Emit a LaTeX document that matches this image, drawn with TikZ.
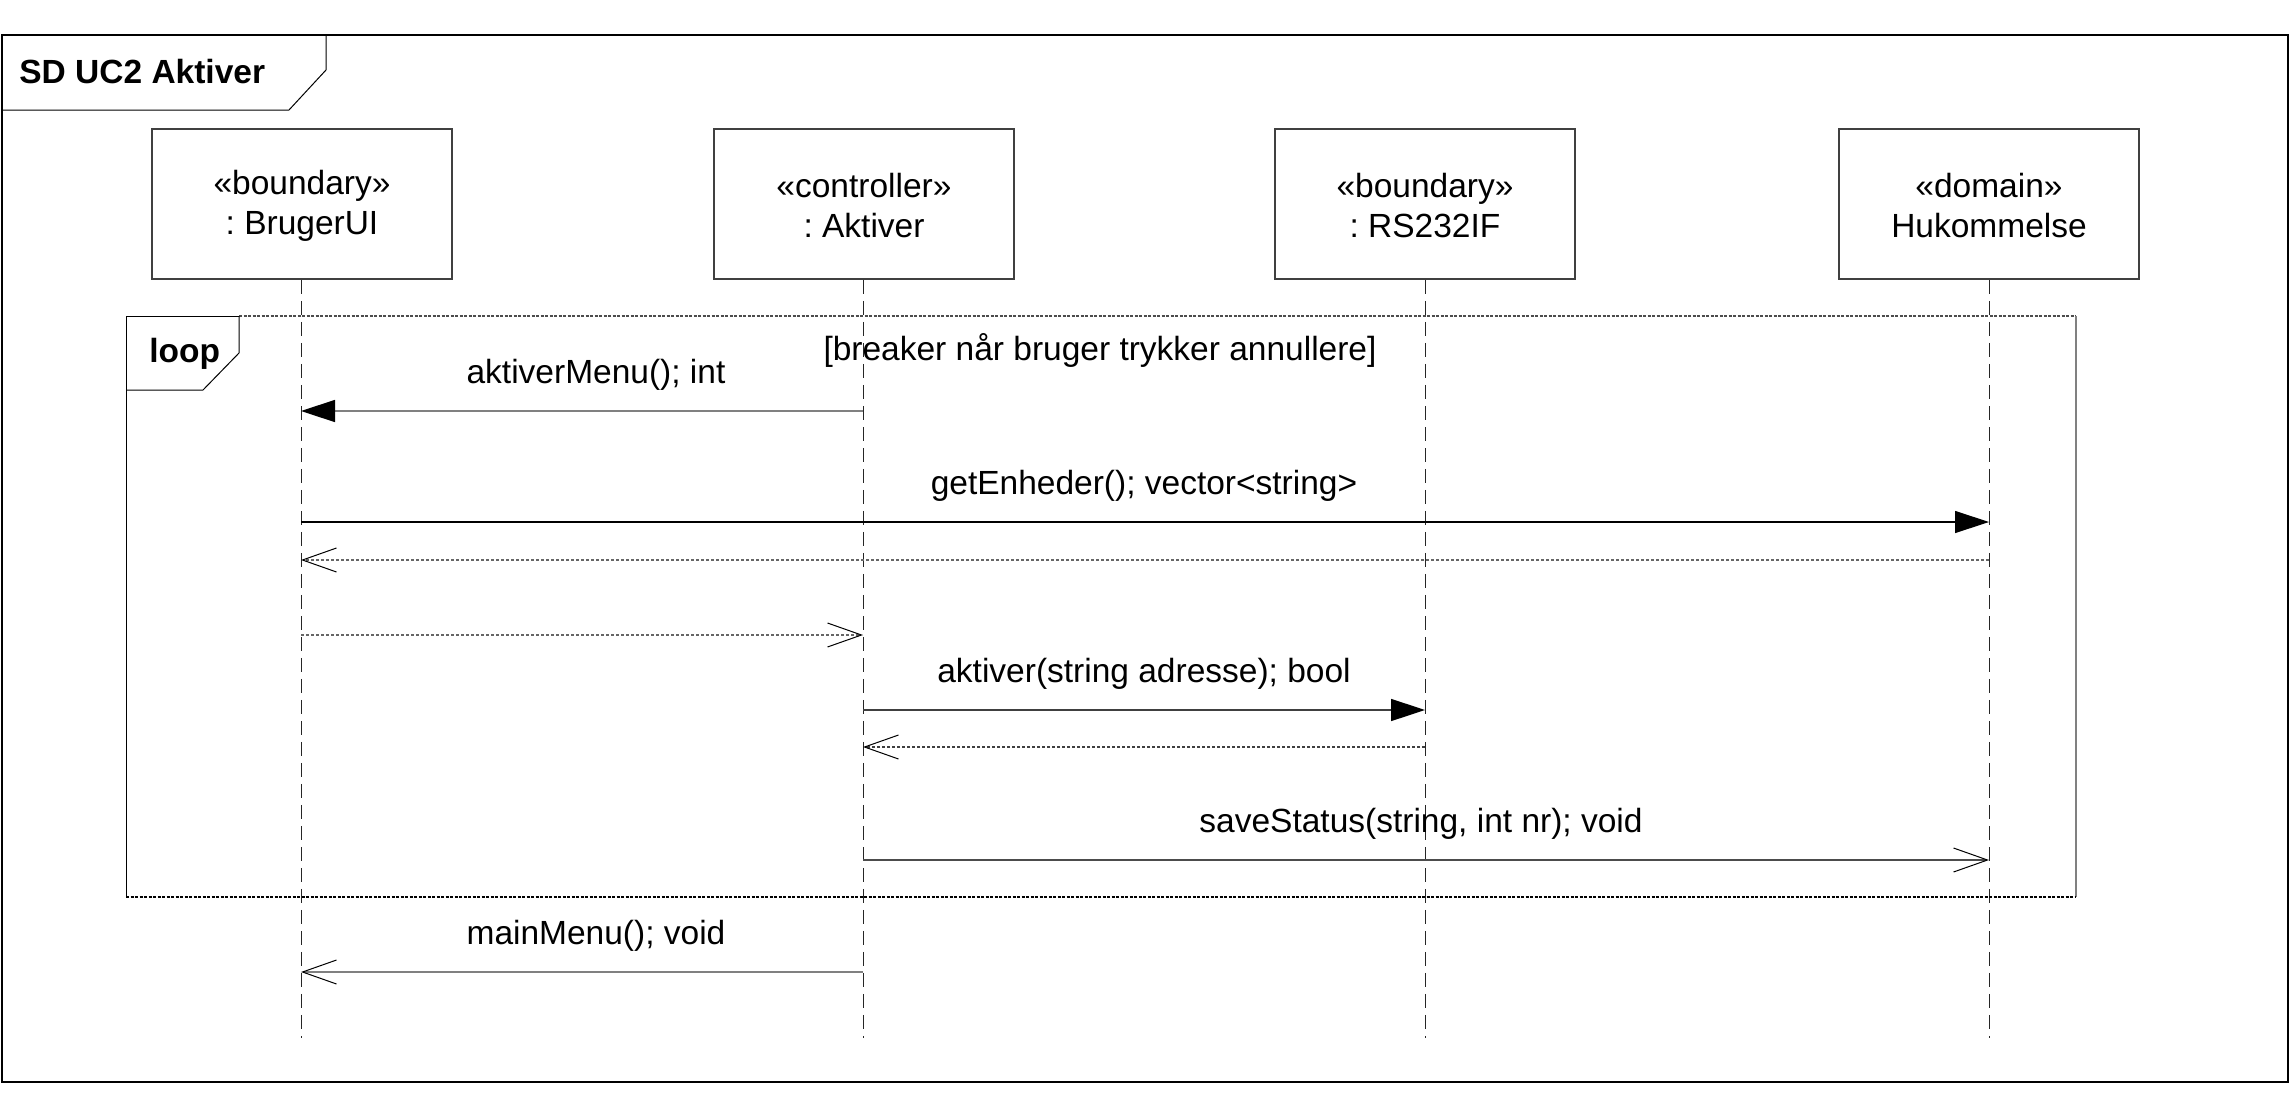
\documentclass[tikz,border=0pt]{standalone}
\usepackage{fontspec}
\setmainfont{Liberation Sans}
\usetikzlibrary{arrows.meta}
\frenchspacing
\begin{document}
\begin{tikzpicture}[x=0.5pt,y=-0.5pt,
  txt/.style={font=\fontsize{16.75}{20}\selectfont, inner sep=0pt},
  head/.style={draw=black!75, line width=0.75pt, fill=white, minimum width=150pt, minimum height=75pt, align=center, font=\fontsize{16.75}{20}\selectfont, inner sep=0pt},
  life/.style={draw=black!85, line width=0.5pt, dash pattern=on 7pt off 3.5pt},
  lbl/.style={txt, anchor=base},
  sync/.style={line width=0.75pt, -{Triangle[length=17pt,width=11pt,color=black]}},
  asyn/.style={line width=0.75pt, -{Straight Barb[length=17pt,width=12pt,line width=0.5pt,color=black]}},
  ret/.style={draw=black!60, line width=0.75pt, dash pattern=on 1.5pt off 1pt, -{Straight Barb[length=17pt,width=12pt,line width=0.5pt,color=black]}}
]
\useasboundingbox (0,0) rectangle (2290,1103);
% outer frame
\draw[line width=0.75pt] (2,35) rectangle (2288,1082);
\draw[line width=0.5pt] (2,110) -- (289,110) -- (326,70) -- (326,35);
\node[txt, anchor=base west, font=\fontsize{16.75}{20}\selectfont\bfseries] (title) at (19,83) {SD UC2 Aktiver};

% lifeline heads
\node[head] (B) at (302,204) {\strut«boundary»\\: BrugerUI};
\node[head] (A) at (864,204) {\strut«controller»\\: Aktiver};
\node[head] (R) at (1425,204) {\strut«boundary»\\: RS232IF};
\node[head] (H) at (1989,204) {\strut«domain»\\Hukommelse};

\coordinate (Bend) at (301,1038);
\coordinate (Aend) at (863,1038);
\coordinate (Rend) at (1425,1038);
\coordinate (Hend) at (1989,1038);
\draw[life] (B.south -| Bend) -- (Bend);
\draw[life] (A.south -| Aend) -- (Aend);
\draw[life] (R.south -| Rend) -- (Rend);
\draw[life] (H.south -| Hend) -- (Hend);

% loop frame
\draw[line width=0.5pt] (126,897) -- (126,316) -- (239,316);
\draw[line width=0.75pt, draw=black!70, dash pattern=on 1.5pt off 0.75pt] (239,316) -- (2076,316);
\draw[line width=0.75pt, draw=black!50] (2076,316) -- (2076,897);
\draw[line width=1pt, dash pattern=on 1.5pt off 0.75pt] (126,897) -- (2076,897);
\draw[line width=0.5pt] (126,390) -- (203,390) -- (239,353) -- (239,316);
\node[txt, anchor=base west, font=\fontsize{16.75}{20}\selectfont\bfseries] (loop) at (149,362) {loop};
\node[lbl] (guard) at (1100,360) {[breaker når bruger trykker annullere]};

% messages
\node[lbl] (m1) at (596,383) {aktiverMenu(); int};
\draw[sync, draw=black!50] (Aend |- 0,411) -- (Bend |- 0,411);

\node[lbl] (m2) at (1144,494) {getEnheder(); vector<string>};
\draw[sync, draw=black, line width=0.6pt] (Bend |- 0,522) -- (Hend |- 0,522);
\draw[ret] (Hend |- 0,560) -- (Bend |- 0,560);

\draw[ret] (Bend |- 0,635) -- (Aend |- 0,635);

\node[lbl] (m3) at (1144,682) {aktiver(string adresse); bool};
\draw[sync, draw=black!75] (Aend |- 0,710) -- (Rend |- 0,710);
\draw[ret, draw=black!75] (Rend |- 0,747) -- (Aend |- 0,747);

\node[lbl] (m4) at (1421,832) {saveStatus(string, int nr); void};
\draw[asyn, draw=black!70] (Aend |- 0,860) -- (Hend |- 0,860);

\node[lbl] (m5) at (596,944) {mainMenu(); void};
\draw[asyn, draw=black!50] (Aend |- 0,972) -- (Bend |- 0,972);
\end{tikzpicture}
\end{document}
